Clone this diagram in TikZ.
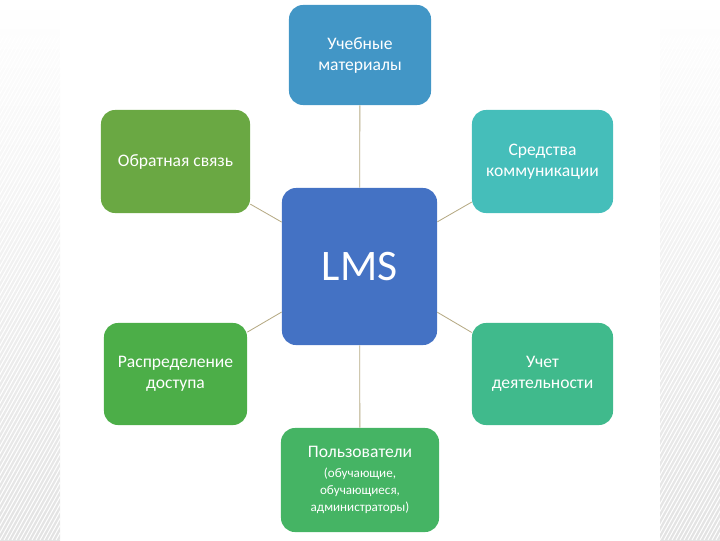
\documentclass[tikz,border=0pt]{standalone}
\usepackage{fontspec}
\setmainfont{Carlito}
\definecolor{matblue}{RGB}{66,150,198}
\definecolor{fbgreen}{RGB}{106,168,67}
\definecolor{commteal}{RGB}{69,190,186}
\definecolor{lmsblue}{RGB}{68,114,196}
\definecolor{accgreen}{RGB}{76,174,72}
\definecolor{actgreen}{RGB}{64,186,140}
\definecolor{usrgreen}{RGB}{69,180,100}
\definecolor{linkcol}{RGB}{182,170,132}
\newcommand{\subfont}{\fontsize{9.3}{11}\selectfont}

\begin{document}
\begin{tikzpicture}[x=0.025cm,y=-0.025cm,
    box/.style={rounded corners=0.35cm,text=white,align=center,inner sep=0pt,
      font=\fontsize{12.5}{15}\selectfont},
    link/.style={draw=linkcol,line width=0.6pt}]
  \useasboundingbox (0,0) rectangle (720,540);
  % side panels with stripes
  \shade[top color=white,bottom color=gray!22] (0,0) rectangle (60,540);
  \shade[top color=white,bottom color=gray!22] (660,0) rectangle (720,540);
  \begin{scope}
    \clip (0,35) rectangle (60,540) (660,35) rectangle (720,540);
    \foreach \i in {-320,-316,...,720}
      \draw[white,line width=0.7pt] (\i,540) -- (\i+300,0);
  \end{scope}
  % boxes
  \node[box,fill=lmsblue,minimum width=3.875cm,minimum height=3.925cm,
    font=\fontsize{31}{36}\selectfont] (lms) at (359.5,266.5) {LMS};
  \node[box,fill=matblue,minimum width=3.55cm,minimum height=2.5cm] (mat) at (360,55) {Учебные\\материалы};
  \node[box,fill=fbgreen,minimum width=3.725cm,minimum height=2.575cm] (fb) at (175.5,161.5) {Обратная связь};
  \node[box,fill=commteal,minimum width=3.525cm,minimum height=2.575cm] (comm) at (542.5,161.5) {Средства\\коммуникации};
  \node[box,fill=accgreen,minimum width=3.575cm,minimum height=2.55cm] (acc) at (175.5,374) {Распределение\\доступа};
  \node[box,fill=actgreen,minimum width=3.525cm,minimum height=2.55cm] (act) at (542.5,374) {Учет\\деятельности};
  \node[box,fill=usrgreen,minimum width=3.95cm,minimum height=2.6cm] (usr) at (360,480)
    {Пользователи\\[-1pt]{\subfont (обучающие,}\\[-3pt]{\subfont обучающиеся,}\\[-3pt]{\subfont администраторы)}};
  % connectors
  \draw[link] (lms) -- (mat);
  \draw[link] (lms) -- (usr);
  \draw[link] (lms) -- (fb);
  \draw[link] (lms) -- (comm);
  \draw[link] (lms) -- (acc);
  \draw[link] (lms) -- (act);
\end{tikzpicture}
\end{document}
